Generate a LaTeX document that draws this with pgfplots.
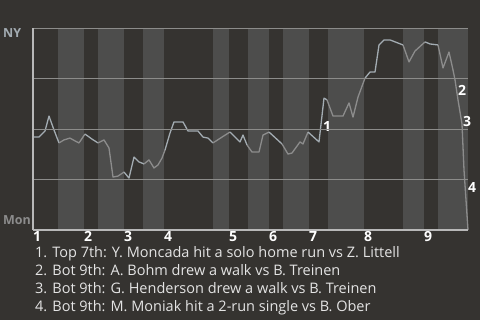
\documentclass[border=0pt]{standalone}
\usepackage{pgfplots}
\pgfplotsset{compat=1.18}
\usepackage{fontspec}
\setmainfont{Open Sans}

\definecolor{bg}{HTML}{353330}
\definecolor{stripe}{HTML}{4D4D4C}
\definecolor{gridc}{HTML}{8C8C8A}
\definecolor{axisc}{HTML}{B8B8B8}
\definecolor{nyline}{HTML}{A3ACB2}
\definecolor{monline}{HTML}{8C8C8C}
\definecolor{txt}{HTML}{E4E4E4}

\newcommand\chartfont{\fontsize{14bp}{16bp}\selectfont}
\newcommand\listfont{\fontsize{14.5bp}{17bp}\selectfont}
\newcommand\teamfont{\fontsize{12.5bp}{15bp}\selectfont\bfseries}

\begin{document}
\begin{tikzpicture}
\fill[bg] (0,0) rectangle (480bp,320bp);

\begin{axis}[
  axis on top,
  at={(33bp,90bp)}, anchor=south west,
  scale only axis, width=435bp, height=202bp,
  xmin=0, xmax=435, ymin=0, ymax=100,
  clip=false,
  axis x line*=bottom, axis y line*=left,
  axis line style={axisc, line width=1.2bp, -},
  major tick length=0pt,
  xtick={0,51,91,131,196,236,276,331,391},
  xticklabels={1,2,3,4,5,6,7,8,9},
  xticklabel style={font=\chartfont\bfseries, color=white, anchor=north west, inner sep=0pt, yshift=-1bp},
  ytick={25,50,75,100},
  yticklabels={},
  ymajorgrids,
  grid style={gridc, line width=0.9bp},
  halfinning/.style={fill=stripe, draw=none},
  ny/.style={nyline, line width=1.3bp, line join=round},
  mon/.style={monline, line width=1.3bp, line join=round},
]
% bottom half-innings shaded
\addplot[halfinning] coordinates {(25,0)(25,100)(51,100)(51,0)};
\addplot[halfinning] coordinates {(65,0)(65,100)(91,100)(91,0)};
\addplot[halfinning] coordinates {(110,0)(110,100)(131,100)(131,0)};
\addplot[halfinning] coordinates {(180,0)(180,100)(196,100)(196,0)};
\addplot[halfinning] coordinates {(215,0)(215,100)(236,100)(236,0)};
\addplot[halfinning] coordinates {(250,0)(250,100)(276,100)(276,0)};
\addplot[halfinning] coordinates {(295,0)(295,100)(331,100)(331,0)};
\addplot[halfinning] coordinates {(370,0)(370,100)(391,100)(391,0)};
\addplot[halfinning] coordinates {(405,0)(405,100)(435,100)(435,0)};

% win probability for NY, split by half-inning
\addplot[ny]  coordinates {(0,46.0)(6,46.0)(12,49.0)(16,56.4)(21,49.5)(26,43.1)};
\addplot[mon] coordinates {(26,43.1)(31,44.6)(37,45.5)(42,44.1)(46,43.1)(52,47.5)};
\addplot[ny]  coordinates {(52,47.5)(59,45.0)(65,43.1)};
\addplot[mon] coordinates {(65,43.1)(71,44.6)(76,40.6)(80,26.2)(85,26.7)(91,28.7)};
\addplot[ny]  coordinates {(91,28.7)(96,25.7)(101,36.1)(106,33.7)(111,32.7)};
\addplot[mon] coordinates {(111,32.7)(116,34.7)(121,30.7)(125,32.2)(129,35.6)(132,39.6)};
\addplot[ny]  coordinates {(132,39.6)(137,48.0)(141,53.5)(150,53.5)(155,49.0)(165,49.0)(170,46.0)(175,45.5)(180,43.1)};
\addplot[mon] coordinates {(180,43.1)(189,46.0)(197,48.5)};
\addplot[ny]  coordinates {(197,48.5)(207,43.6)(210,47.0)(214,42.1)};
\addplot[mon] coordinates {(214,42.1)(219,38.6)(226,38.6)(230,47.0)(236,48.5)};
\addplot[ny]  coordinates {(236,48.5)(249,42.6)};
\addplot[mon] coordinates {(249,42.6)(255,37.6)(259,38.1)(267,43.6)(270,42.6)(275,48.5)};
\addplot[ny]  coordinates {(275,48.5)(286,43.6)(291,65.3)(294,64.4)};
\addplot[mon] coordinates {(294,64.4)(300,56.4)(310,56.4)(316,62.9)(320,55.9)(325,65.8)(332,75.2)};
\addplot[ny]  coordinates {(332,75.2)(337,78.2)(342,78.2)(346,91.6)(351,94.1)(357,94.1)(370,91.6)};
\addplot[mon] coordinates {(370,91.6)(376,83.2)(382,88.6)(392,93.1)};
\addplot[ny]  coordinates {(392,93.1)(397,92.1)(405,91.6)};
\addplot[mon] coordinates {(405,91.6)(410,80.2)(416,88.1)(420,79.2)(422,74.3)(425,64.4)(429,52.5)(431,29.7)(433,14.9)(435,0)};

% key plays
\node[font=\chartfont\bfseries, text=white, inner sep=0pt] at (axis cs:294,51.0) {1};
\node[font=\chartfont\bfseries, text=white, inner sep=0pt] at (axis cs:429,69.3) {2};
\node[font=\chartfont\bfseries, text=white, inner sep=0pt] at (axis cs:434,53.5) {3};
\node[font=\chartfont\bfseries, text=white, inner sep=0pt] at (axis cs:439,20.8) {4};
\end{axis}

\node[anchor=north west, inner sep=0pt, font=\teamfont, text=nyline] at (3bp,292bp) {NY};
\node[anchor=base west, inner sep=0pt, font=\teamfont, text=monline] at (3bp,95bp) {Mon};

\begin{scope}[every node/.style={anchor=base west, inner sep=0pt, font=\listfont, text=txt}]
\node at (35bp,62.5bp) {1. Top 7th: Y. Moncada hit a solo home run vs Z. Littell};
\node at (35bp,44.5bp) {2. Bot 9th: A. Bohm drew a walk vs B. Treinen};
\node at (35bp,26.5bp) {3. Bot 9th: G. Henderson drew a walk vs B. Treinen};
\node at (35bp,8.5bp) {4. Bot 9th: M. Moniak hit a 2-run single vs B. Ober};
\end{scope}
\end{tikzpicture}
\end{document}
